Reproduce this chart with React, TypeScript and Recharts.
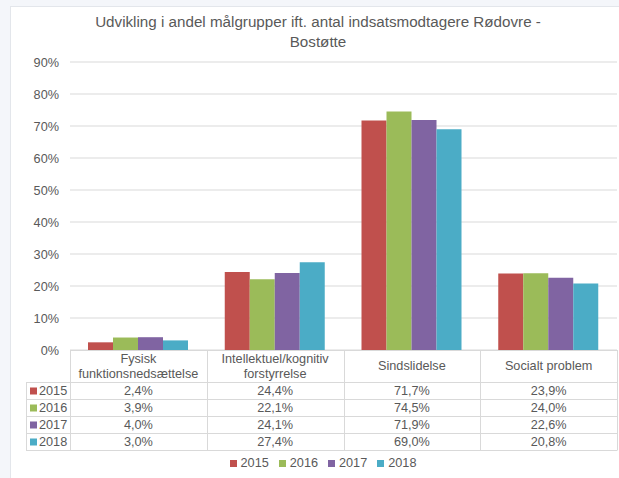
import React from 'react';
import { BarChart, Bar, XAxis, YAxis, CartesianGrid, Legend } from 'recharts';

const categories = ['Fysisk funktionsnedsættelse', 'Intellektuel/kognitiv forstyrrelse', 'Sindslidelse', 'Socialt problem'];
const categoryLines = [
  ['Fysisk', 'funktionsnedsættelse'],
  ['Intellektuel/kognitiv', 'forstyrrelse'],
  ['Sindslidelse'],
  ['Socialt problem'],
];
const seriesNames = ['2015', '2016', '2017', '2018'];
const values2015 = [2.4, 24.4, 71.7, 23.9];
const values2016 = [3.9, 22.1, 74.5, 24.0];
const values2017 = [4.0, 24.1, 71.9, 22.6];
const values2018 = [3.0, 27.4, 69.0, 20.8];
const seriesValues = [values2015, values2016, values2017, values2018];
const seriesColors = ['#c0504d', '#9bbb59', '#8064a2', '#4bacc6'];
const yTicks = [0, 10, 20, 30, 40, 50, 60, 70, 80, 90];
const titleLines = ['Udvikling i andel målgrupper ift. antal indsatsmodtagere Rødovre -', 'Bostøtte'];

const data = categories.map((name, i) => {
  const row: Record<string, any> = { name };
  seriesNames.forEach((s, j) => {
    row[s] = seriesValues[j][i];
  });
  return row;
});

const FONT = '"Liberation Sans", Arial, sans-serif';
const TEXT = '#595959';
const GRID = '#d9d9d9';
const W = 619;
const H = 478;
const PLOT_L = 70;
const PLOT_R = 617;
const PLOT_T = 62;
const PLOT_B = 350;
const COL_W = (PLOT_R - PLOT_L) / 4;
const HEAD_H = 32;
const ROW_H = 17;
const LEG_L = 26;
const FS = 12.7;

const fmt = (v: number) => v.toFixed(1).replace('.', ',') + '%';

function DataTable() {
  const rowsTop = PLOT_B + HEAD_H;
  const bottom = rowsTop + ROW_H * seriesNames.length;
  const lines: React.ReactNode[] = [];
  lines.push(<line key="h0" x1={PLOT_L} x2={PLOT_R} y1={PLOT_B + 0.5} y2={PLOT_B + 0.5} />);
  for (let r = 0; r <= seriesNames.length; r++) {
    const y = Math.round(rowsTop + r * ROW_H) + 0.5;
    lines.push(<line key={'h' + (r + 1)} x1={LEG_L} x2={PLOT_R} y1={y} y2={y} />);
  }
  lines.push(<line key="vL" x1={LEG_L + 0.5} x2={LEG_L + 0.5} y1={rowsTop} y2={bottom} />);
  for (let c = 0; c <= categories.length; c++) {
    const x = Math.round(PLOT_L + c * COL_W) + 0.5;
    lines.push(<line key={'v' + c} x1={x} x2={x} y1={PLOT_B} y2={bottom + 0.5} />);
  }
  return (
    <svg width={W} height={H} style={{ position: 'absolute', left: 0, top: 0, pointerEvents: 'none' }}>
      <g stroke={GRID} strokeWidth={1}>{lines}</g>
      <g fill={TEXT} fontFamily={FONT} fontSize={FS}>
        {categoryLines.map((ls, c) => {
          const cx = PLOT_L + (c + 0.5) * COL_W;
          const cy = PLOT_B + HEAD_H / 2;
          const lh = 15;
          return ls.map((t, k) => (
            <text key={'c' + c + k} x={cx} y={cy + (k - (ls.length - 1) / 2) * lh} textAnchor="middle" dominantBaseline="central">
              {t}
            </text>
          ));
        })}
        {seriesNames.map((s, r) => {
          const cy = rowsTop + r * ROW_H + ROW_H / 2 + 0.5;
          return (
            <g key={'r' + s}>
              <rect x={30} y={cy - 3.5} width={7} height={7} fill={seriesColors[r]} />
              <text x={39} y={cy} dominantBaseline="central">{s}</text>
              {seriesValues[r].map((v, c) => (
                <text key={c} x={PLOT_L + (c + 0.5) * COL_W} y={cy} textAnchor="middle" dominantBaseline="central">
                  {fmt(v)}
                </text>
              ))}
            </g>
          );
        })}
      </g>
    </svg>
  );
}

export default function App() {
  return (
    <div style={{ position: 'absolute', left: 0, top: 0, width: W, height: H, background: '#f4f6fa', overflow: 'hidden', fontFamily: FONT }}>
      <div style={{ position: 'absolute', left: 10, top: 6, right: 0, bottom: 0, background: '#ffffff', borderLeft: '1px solid #e3e6eb', borderTop: '1px solid #e3e6eb' }} />
      <div style={{ position: 'absolute', left: 0, top: 0 }}>
        <BarChart width={W} height={H} data={data} margin={{ top: PLOT_T, right: W - PLOT_R, left: 0, bottom: H - PLOT_B }} barGap={0} barSize={25}>
          <CartesianGrid vertical={false} stroke={GRID} />
          <XAxis dataKey="name" hide />
          <YAxis
            width={PLOT_L}
            domain={[0, 90]}
            ticks={yTicks}
            tickFormatter={(v: number) => v + '%'}
            axisLine={false}
            tickLine={false}
            tickSize={0}
            tickMargin={11}
            tick={{ fill: TEXT, fontSize: FS, fontFamily: FONT }}
          />
          {seriesNames.map((s, j) => (
            <Bar key={s} dataKey={s} fill={seriesColors[j]} isAnimationActive={false} />
          ))}
          <Legend
            verticalAlign="middle"
            align="center"
            iconType="square"
            iconSize={7}
            wrapperStyle={{ top: 456, left: 31, width: 594, fontSize: FS, fontFamily: FONT }}
            formatter={(value: string) => <span style={{ color: TEXT }}>{value}</span>}
          />
        </BarChart>
      </div>
      <DataTable />
      <div style={{ position: 'absolute', left: 8, top: 12, width: 620, textAlign: 'center', color: TEXT, fontSize: 15.2, lineHeight: '20px' }}>
        {titleLines.map((t) => (
          <div key={t}>{t}</div>
        ))}
      </div>
    </div>
  );
}
